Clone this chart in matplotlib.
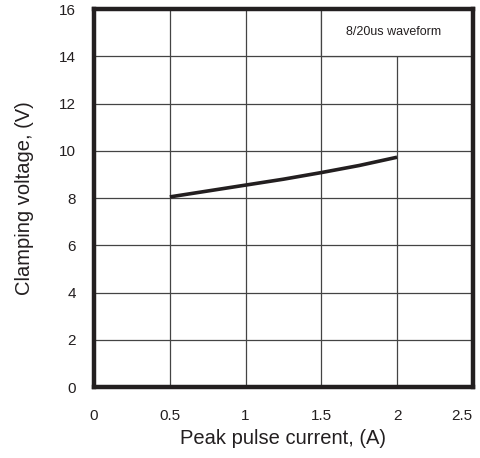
import matplotlib.pyplot as plt

# curve
current = [0.5, 0.75, 1.0, 1.25, 1.5, 1.75, 2.0]
voltage = [8.05, 8.3, 8.55, 8.8, 9.08, 9.38, 9.73]

xticks = [0, 0.5, 1, 1.5, 2, 2.5]
xticklabels = ['0', '0.5', '1', '1.5', '2', '2.5']
yticks = [0, 2, 4, 6, 8, 10, 12, 14, 16]

plt.rcParams['font.family'] = ['Liberation Sans', 'DejaVu Sans']

fig = plt.figure(figsize=(4.8, 4.58), dpi=100)
ax = fig.add_axes([0.196, 0.155, 0.789, 0.825])

ax.set_xlim(0, 2.5)
ax.set_ylim(0, 16)
ax.set_xticks(xticks)
ax.set_xticklabels(xticklabels)
ax.set_yticks(yticks)
ax.tick_params(length=0, labelsize=11, colors='#231f20')
ax.tick_params(axis='x', pad=16)
ax.tick_params(axis='y', pad=13)
# last x label sits inside the right edge, as in the original
ax.get_xticklabels()[-1].set_horizontalalignment('right')

# grid
ax.grid(True, color='#444444', linewidth=0.9)
ax.set_axisbelow(True)

for s in ax.spines.values():
    s.set_linewidth(3.2)
    s.set_color('#231f20')

ax.plot(current, voltage, color='#231f20', linewidth=2.6, solid_capstyle='butt', zorder=3)

# white label cell in the top right
ax.add_patch(plt.Rectangle((1.5, 14), 1.0, 2.0, facecolor='white', edgecolor='#444444',
                           linewidth=0.9, zorder=2))
ax.text(1.98, 15.05, '8/20us waveform', ha='center', va='center', fontsize=9,
        color='#231f20', zorder=3)

ax.set_xlabel('Peak pulse current, (A)', fontsize=14.5, color='#231f20', labelpad=4)
ax.set_ylabel('Clamping voltage, (V)', fontsize=14.5, color='#231f20', labelpad=18)

fig.savefig('out.png', dpi=100)
